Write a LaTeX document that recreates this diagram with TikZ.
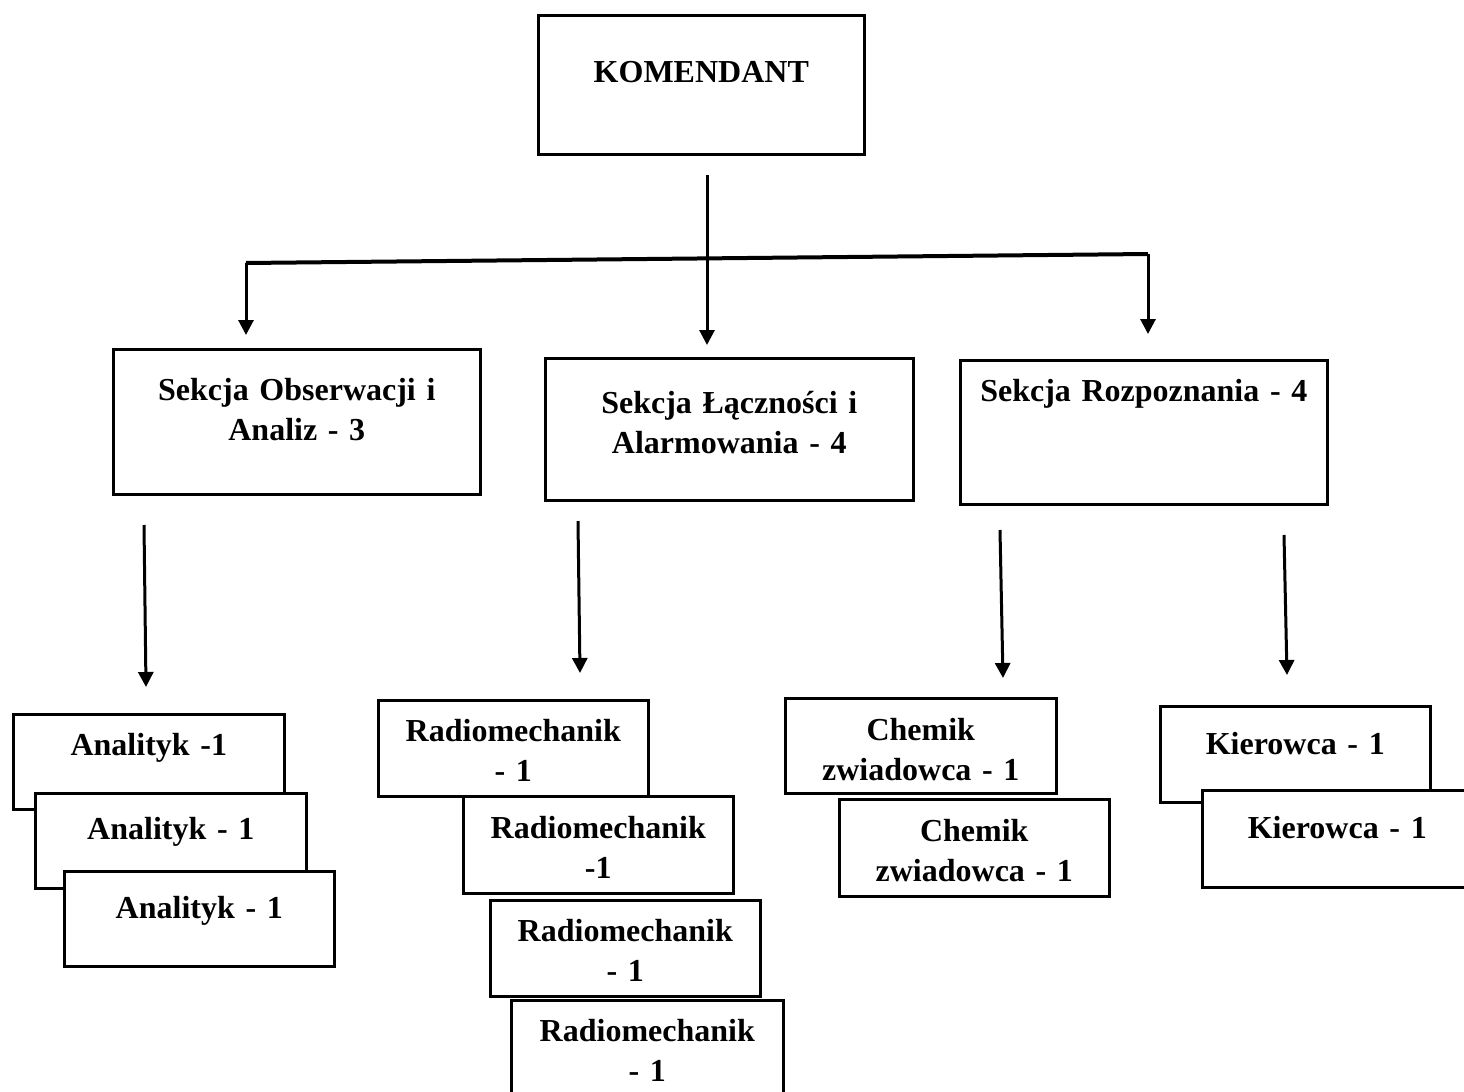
\documentclass[tikz,border=0pt]{standalone}
\usepackage{fontspec}
\setmainfont{Liberation Serif}
\usetikzlibrary{arrows.meta}

\begin{document}
\begin{tikzpicture}[x=0.5pt,y=-0.5pt,
  box/.style={draw,fill=white,line width=1.3pt,inner sep=0pt,anchor=north west,align=center,
    font=\bfseries\fontsize{16pt}{20pt}\selectfont},
  dims/.style n args={3}{text width=#1pt,text height=#2pt,text depth=#3pt},
  arr/.style={line width=1.5pt,-{Triangle[length=7.5pt,width=7.5pt]}}]
\useasboundingbox (0,0) rectangle (1464,1092);

% top and sections
\node[box,dims={163}{33.5}{36}] (kom) at (537,14) {KOMENDANT};
\node[box,dims={183.5}{25.5}{47}] (obs) at (112,348) {Sekcja Obserwacji i\\Analiz - 3};
\node[box,dims={184}{27.5}{43.5}] (lacz) at (544,357) {Sekcja Łączności i\\Alarmowania - 4};
\node[box,dims={183.5}{20.5}{51.5}] (rozp) at (959,359) {Sekcja Rozpoznania - 4};

% staff
\node[box,dims={135.5}{20.5}{27}] (an1) at (12,713) {Analityk -1};
\node[box,dims={135.5}{23}{24.5}] (an2) at (34,792) {Analityk - 1};
\node[box,dims={135}{23.5}{24}] (an3) at (63,870) {Analityk - 1};
\node[box,dims={135}{20.5}{27.5}] (rad1) at (377,699) {Radiomechanik\\- 1};
\node[box,dims={135}{21}{27.5}] (rad2) at (462,795) {Radiomechanik\\-1};
\node[box,dims={135}{20.5}{27.5}] (rad3) at (489,899) {Radiomechanik\\- 1};
\node[box,dims={136}{20.5}{27.5}] (rad4) at (510,999) {Radiomechanik\\- 1};
\node[box,dims={135.5}{21}{26.5}] (chem1) at (784,697) {Chemik\\zwiadowca - 1};
\node[box,dims={135}{21}{27.5}] (chem2) at (838,798) {Chemik\\zwiadowca - 1};
\node[box,dims={135}{24}{24}] (kier1) at (1159,705) {Kierowca - 1};
\node[box,dims={135}{24}{24.5}] (kier2) at (1201,789) {Kierowca - 1};

% arrow ends
\coordinate (kom-out) at (707,175);
\coordinate (lacz-in) at (707,345);
\coordinate (bus-l) at (246,263);
\coordinate (bus-r) at (1148,254);
\coordinate (obs-in) at (246,335);
\coordinate (rozp-in) at (1148,334);
\coordinate (obs-out) at (144,525);
\coordinate (an-in) at (146,687);
\coordinate (lacz-out) at (578,521);
\coordinate (rad-in) at (580,673);
\coordinate (rozp-out1) at (1000,530);
\coordinate (chem-in) at (1003,678);
\coordinate (rozp-out2) at (1284,535);
\coordinate (kier-in) at (1287,675);

\draw[arr] (kom-out) -- (lacz-in);
\draw[line width=2pt] (bus-l) -- (bus-r);
\draw[arr] (bus-l) -- (obs-in);
\draw[arr] (bus-r) -- (rozp-in);
\draw[arr] (obs-out) -- (an-in);
\draw[arr] (lacz-out) -- (rad-in);
\draw[arr] (rozp-out1) -- (chem-in);
\draw[arr] (rozp-out2) -- (kier-in);
\end{tikzpicture}
\end{document}
